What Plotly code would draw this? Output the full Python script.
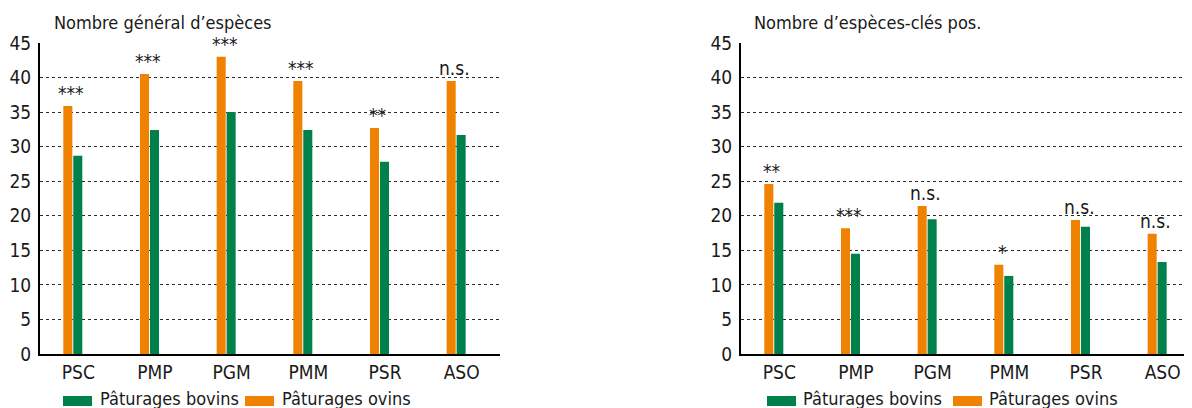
import plotly.graph_objects as go

# The page adds an 8px body margin; the figure fills the rest of the 1192x408 window.
PAD = 8
W, H = 1192 - PAD, 408 - PAD

categories = ["PSC", "PMP", "PGM", "PMM", "PSR", "ASO"]

# Left panel: Nombre général d'espèces
gen_ovins = [35.9, 40.5, 43.0, 39.5, 32.7, 39.5]
gen_bovins = [28.7, 32.4, 35.0, 32.4, 27.8, 31.7]
gen_sig = ["***", "***", "***", "***", "**", "n.s."]

# Right panel: Nombre d'espèces-clés pos.
key_ovins = [24.6, 18.2, 21.4, 12.9, 19.4, 17.4]
key_bovins = [21.9, 14.5, 19.5, 11.3, 18.4, 13.3]
key_sig = ["**", "***", "n.s.", "*", "n.s.", "n.s."]

y_ticks = [0, 5, 10, 15, 20, 25, 30, 35, 40, 45]

ORANGE = "#EF8200"
GREEN = "#00804B"
FONT = "DejaVu Sans Condensed, Liberation Sans Narrow, Arial Narrow, sans-serif"
TXT = "#1a1a1a"

def px_x(p):
    return (p - PAD) / W

def px_y(p):
    return 1 - (p - PAD) / H

fig = go.Figure()

BW = 0.118
for ov, bv, xa, ya in [(gen_ovins, gen_bovins, "x", "y"), (key_ovins, key_bovins, "x2", "y2")]:
    fig.add_trace(go.Bar(x=categories, y=ov, marker_color=ORANGE, marker_line_width=0,
                         width=BW, offset=-0.196, xaxis=xa, yaxis=ya,
                         name="Pâturages ovins", showlegend=False))
    fig.add_trace(go.Bar(x=categories, y=bv, marker_color=GREEN, marker_line_width=0,
                         width=BW, offset=-0.066, xaxis=xa, yaxis=ya,
                         name="Pâturages bovins", showlegend=False))

ydom = [px_y(354), px_y(43)]
yaxis_common = dict(range=[0, 45], tickvals=y_ticks, showgrid=True, gridcolor="#2a2a2a",
                    griddash="3px,3px", gridwidth=1, zeroline=False, showline=True,
                    linecolor="black", linewidth=2, ticks="", domain=ydom,
                    tickfont=dict(family=FONT, size=19, color=TXT),
                    ticklabelstandoff=3, fixedrange=True, automargin=False)
xaxis_common = dict(showline=True, linecolor="black", linewidth=2, ticks="", showgrid=False,
                    tickfont=dict(family=FONT, size=19, color=TXT),
                    type="category", fixedrange=True, automargin=False)

fig.update_layout(
    width=W, height=H,
    margin=dict(l=0, r=0, t=0, b=0, autoexpand=False),
    plot_bgcolor="white", paper_bgcolor="white",
    barmode="overlay", showlegend=False,
    xaxis=dict(domain=[px_x(40), px_x(500)], range=[-0.5, 5.5], anchor="y", **xaxis_common),
    yaxis=dict(anchor="x", **yaxis_common),
    xaxis2=dict(domain=[px_x(741), 1.0], range=[-0.5, 5.5 - 9 / 76.67], anchor="y2", **xaxis_common),
    yaxis2=dict(anchor="x2", **yaxis_common),
)

annotations = []
for vals, sig, xr, yr in [(gen_ovins, gen_sig, "x", "y"), (key_ovins, key_sig, "x2", "y2")]:
    for c, v, s in zip(categories, vals, sig):
        annotations.append(dict(x=c, y=v, xref=xr, yref=yr, text=s, showarrow=False,
                                xanchor="center", yanchor="bottom", xshift=-7, yshift=0,
                                font=dict(family=FONT, size=19, color=TXT)))

# Titles
annotations.append(dict(x=px_x(52), y=px_y(22), xref="paper", yref="paper", xanchor="left",
                        yanchor="middle", showarrow=False, text="Nombre général d’espèces",
                        font=dict(family=FONT, size=18, color=TXT)))
annotations.append(dict(x=px_x(752), y=px_y(22), xref="paper", yref="paper", xanchor="left",
                        yanchor="middle", showarrow=False, text="Nombre d’espèces-clés pos.",
                        font=dict(family=FONT, size=18, color=TXT)))

# Custom legends
shapes = []
for gx, gt, ox, ot in [(63, 98, 245, 280), (767, 801, 953, 987)]:
    shapes.append(dict(type="rect", xref="paper", yref="paper", x0=px_x(gx), x1=px_x(gx + 29),
                       y0=px_y(406), y1=px_y(396), fillcolor=GREEN, line_width=0))
    shapes.append(dict(type="rect", xref="paper", yref="paper", x0=px_x(ox), x1=px_x(ox + 29),
                       y0=px_y(406), y1=px_y(396), fillcolor=ORANGE, line_width=0))
    annotations.append(dict(x=px_x(gt), y=px_y(398), xref="paper", yref="paper", xanchor="left",
                            yanchor="middle", showarrow=False, text="Pâturages bovins",
                            font=dict(family=FONT, size=18, color=TXT)))
    annotations.append(dict(x=px_x(ot), y=px_y(398), xref="paper", yref="paper", xanchor="left",
                            yanchor="middle", showarrow=False, text="Pâturages ovins",
                            font=dict(family=FONT, size=18, color=TXT)))

fig.update_layout(annotations=annotations, shapes=shapes)

fig.write_html("out.html")
